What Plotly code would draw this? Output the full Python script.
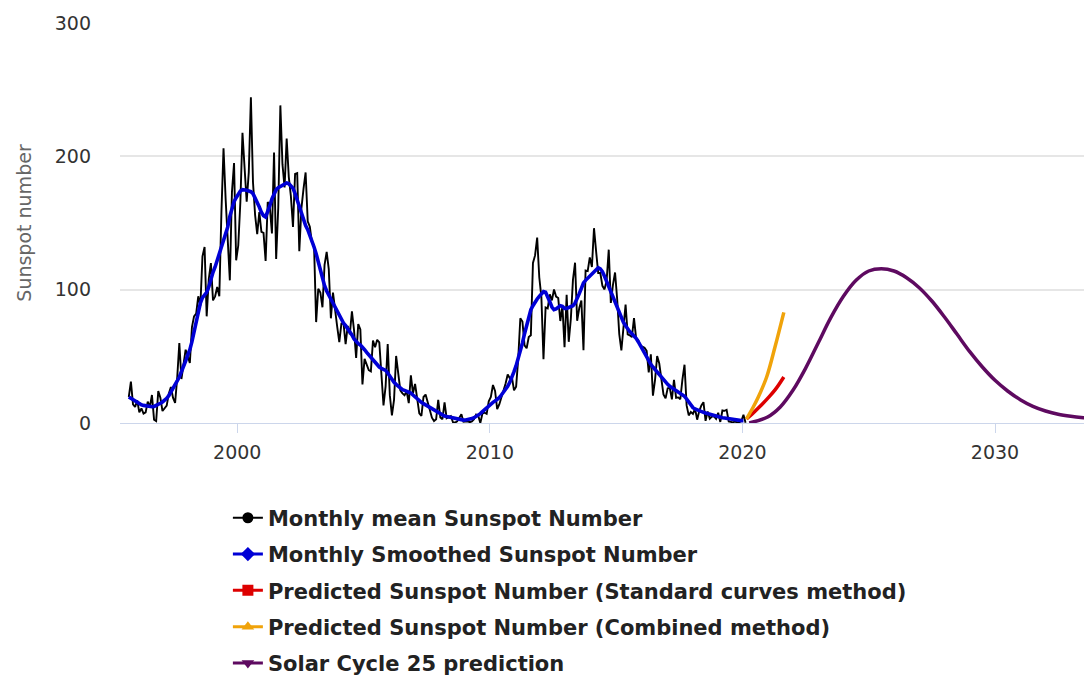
import plotly.graph_objects as go

# ---------------- data ----------------
start_year = 1995
start_month = 9  # first monthly value: Sep 1995

monthly_mean = [
    # 1995 (Sep-Dec)
    19.5, 31.0, 14.0, 12.0,
    # 1996
    17.0, 8.0, 11.0, 7.0, 8.0, 16.0, 12.0, 21.0, 2.5, 1.5, 24.0, 19.0,
    # 1997
    9.0, 11.0, 13.0, 22.0, 27.0, 19.0, 15.0, 34.0, 60.0, 33.0, 45.0, 55.0,
    # 1998
    50.0, 45.0, 72.0, 80.0, 82.0, 95.0, 88.0, 125.0, 132.0, 80.0, 108.0, 120.0,
    # 1999
    92.0, 95.0, 102.0, 95.0, 158.0, 206.0, 168.0, 140.0, 107.0, 173.0, 195.0, 122.0,
    # 2000
    133.1, 165.7, 217.7, 191.5, 165.9, 188.0, 244.3, 180.5, 156.0, 141.6, 158.1, 143.3,
    # 2001
    142.6, 121.5, 165.8, 161.7, 142.1, 202.9, 123.0, 161.5, 238.2, 194.1, 176.6, 213.4,
    # 2002
    184.6, 170.2, 147.1, 186.9, 187.5, 128.8, 161.0, 175.6, 187.9, 151.2, 147.2, 135.3,
    # 2003
    133.5, 75.7, 100.7, 97.9, 86.8, 118.7, 128.3, 115.4, 78.5, 97.8, 82.9, 72.2,
    # 2004
    60.6, 74.6, 74.8, 59.2, 72.8, 66.5, 83.8, 69.7, 48.8, 74.2, 70.1, 28.9,
    # 2005
    48.1, 43.5, 39.6, 38.7, 61.9, 56.8, 62.4, 60.5, 37.2, 13.2, 27.5, 59.3,
    # 2006
    20.9, 5.7, 17.3, 50.3, 37.2, 24.5, 22.2, 20.8, 23.7, 14.9, 35.7, 22.3,
    # 2007
    29.3, 18.4, 7.2, 5.4, 19.5, 21.3, 15.1, 9.8, 4.0, 1.5, 2.8, 17.3,
    # 2008
    4.1, 2.9, 15.5, 3.6, 4.6, 5.2, 0.6, 0.3, 1.2, 4.2, 6.6, 1.0,
    # 2009
    1.3, 1.2, 0.6, 1.2, 2.9, 6.3, 5.5, 0.0, 7.1, 7.7, 6.9, 16.3,
    # 2010
    19.5, 28.5, 24.0, 10.4, 13.9, 18.8, 25.2, 29.6, 36.4, 33.6, 34.4, 24.5,
    # 2011
    27.3, 48.3, 78.6, 76.1, 58.2, 56.1, 64.5, 65.8, 120.1, 125.7, 139.1, 109.3,
    # 2012
    94.4, 47.8, 86.6, 85.9, 96.5, 92.0, 100.1, 94.8, 93.7, 76.5, 87.6, 56.8,
    # 2013
    96.1, 60.9, 78.3, 107.3, 120.2, 76.7, 86.2, 91.8, 54.5, 114.4, 113.9, 124.2,
    # 2014
    117.0, 146.1, 128.7, 112.5, 112.5, 102.9, 100.2, 106.9, 130.0, 90.0, 103.6, 112.9,
    # 2015
    93.0, 66.7, 54.5, 75.3, 88.8, 66.5, 65.8, 64.4, 78.6, 63.6, 62.2, 58.0,
    # 2016
    57.0, 56.4, 54.1, 37.9, 51.5, 20.5, 32.4, 50.2, 44.6, 33.4, 21.4, 18.5,
    # 2017
    26.1, 26.4, 17.7, 32.3, 18.9, 19.2, 17.8, 32.6, 43.7, 13.2, 5.7, 8.2,
    # 2018
    6.8, 10.7, 2.5, 8.9, 13.1, 15.6, 1.6, 8.7, 3.3, 4.9, 4.9, 3.1,
    # 2019
    7.7, 0.8, 9.4, 9.1, 9.9, 1.2, 0.9, 0.5, 1.1, 0.4, 0.5, 1.5,
    # 2020
    6.2, 0.2,
]

monthly_smoothed = [
    # 1995 (Sep-Dec)
    19.5, 18.5, 17.2, 16.0,
    # 1996
    15.0, 14.2, 13.6, 13.2, 12.8, 12.5, 12.3, 12.2, 12.4, 13.0, 13.8, 14.8,
    # 1997
    15.8, 17.0, 18.5, 20.5, 23.0, 25.5, 28.5, 31.5, 34.5, 38.0, 42.0, 46.5,
    # 1998
    51.0, 55.0, 61.0, 68.0, 76.0, 84.0, 90.0, 94.0, 96.0, 98.0, 102.0, 108.0,
    # 1999
    113.0, 117.0, 122.0, 128.0, 133.0, 137.0, 141.0, 147.0, 155.0, 161.0, 166.0, 169.0,
    # 2000
    172.0, 174.0, 175.0, 175.0, 174.5, 174.0, 173.5, 172.0, 169.0, 166.0, 162.0, 158.0,
    # 2001
    155.5, 154.5, 158.0, 163.0, 168.0, 172.0, 175.0, 176.5, 177.5, 178.5, 179.5, 180.0,
    # 2002
    179.5, 178.0, 176.0, 172.0, 167.0, 162.0, 157.0, 152.0, 148.0, 145.0, 141.0, 136.0,
    # 2003
    132.0, 127.0, 121.0, 114.0, 108.0, 103.0, 99.0, 96.0, 93.0, 90.0, 87.0, 84.0,
    # 2004
    80.0, 77.0, 75.0, 73.0, 71.0, 69.0, 66.0, 63.0, 61.0, 59.5, 58.5, 57.0,
    # 2005
    55.0, 53.0, 51.0, 49.0, 47.0, 45.0, 43.0, 42.0, 41.0, 40.0, 39.5, 37.5,
    # 2006
    35.0, 32.5, 30.5, 29.0, 27.5, 26.0, 25.0, 24.5, 24.0, 23.5, 22.5, 21.0,
    # 2007
    19.5, 18.0, 16.5, 15.5, 14.5, 13.5, 12.5, 11.5, 10.5, 9.5, 8.5, 7.5,
    # 2008
    6.5, 5.8, 5.2, 4.8, 4.4, 4.0, 3.6, 3.2, 2.9, 2.6, 2.4, 2.2,
    # 2009
    2.3, 2.5, 2.8, 3.3, 4.0, 4.8, 5.8, 7.0, 8.5, 10.0, 11.5, 13.0,
    # 2010
    14.5, 15.5, 16.5, 17.5, 19.0, 21.0, 23.0, 25.0, 27.5, 30.5, 34.0, 38.5,
    # 2011
    43.0, 48.0, 54.0, 60.0, 67.0, 74.0, 80.0, 85.0, 88.0, 91.0, 93.0, 95.0,
    # 2012
    97.0, 98.5, 98.0, 95.0, 91.0, 87.0, 85.0, 85.5, 87.0, 88.0, 87.5, 86.0,
    # 2013
    86.0, 86.5, 87.5, 88.0, 90.0, 93.0, 97.0, 101.0, 105.0, 107.0, 108.5, 110.0,
    # 2014
    111.5, 113.0, 115.0, 116.4, 115.5, 113.5, 110.0, 106.0, 102.0, 98.0, 94.0, 90.0,
    # 2015
    86.0, 82.0, 78.5, 75.5, 73.0, 70.5, 68.5, 67.0, 65.5, 63.5, 61.0, 58.0,
    # 2016
    55.0, 52.0, 49.0, 46.5, 44.0, 42.0, 40.0, 38.0, 36.0, 34.0, 32.0, 30.5,
    # 2017
    29.0, 27.5, 26.5, 25.5, 24.5, 23.5, 22.5, 21.5, 20.0, 18.0, 15.5, 13.0,
    # 2018
    11.5, 10.5, 9.7, 9.0, 8.5, 8.0, 7.5, 7.0, 6.5, 6.0, 5.5, 5.0,
    # 2019
    4.5, 4.2, 4.0, 3.8, 3.5, 3.2, 3.0, 2.7, 2.4, 2.2, 2.0, 1.8,
    # 2020
    1.8,
]

# predictions (decimal year, sunspot number)
pred_standard_year = [2020.16, 2020.4, 2020.7, 2021.0, 2021.3, 2021.64]
pred_standard_ssn = [3.0, 7.0, 12.5, 18.5, 25.0, 34.5]

pred_combined_year = [2020.16, 2020.43, 2020.63, 2020.96, 2021.29, 2021.64]
pred_combined_ssn = [3.0, 12.0, 19.5, 34.5, 57.0, 83.0]

cycle25_year = [2020.27, 2021.0, 2021.5, 2022.0, 2022.5, 2023.0, 2023.5, 2024.0, 2024.5,
                2025.0, 2025.5, 2026.0, 2026.5, 2027.0, 2027.5, 2028.0, 2028.5, 2029.0,
                2029.5, 2030.0, 2030.5, 2031.0, 2031.5, 2032.0, 2032.5, 2033.0, 2033.5, 2034.0]
cycle25_ssn = [0.0, 4.5, 12.0, 24.5, 41.0, 60.0, 79.0, 95.0, 107.0,
               114.0, 115.7, 114.0, 109.0, 101.5, 91.5, 79.5, 66.5, 53.5,
               42.0, 32.0, 24.0, 17.5, 12.5, 9.0, 6.5, 5.0, 4.0, 3.3]

x_ticks = [2000, 2010, 2020, 2030]
y_ticks = [0, 100, 200, 300]

series_names = [
    "Monthly mean Sunspot Number",
    "Monthly Smoothed Sunspot Number",
    "Predicted Sunspot Number (Standard curves method)",
    "Predicted Sunspot Number (Combined method)",
    "Solar Cycle 25 prediction",
]

# ---------------- build ----------------
t0 = start_year + (start_month - 0.5) / 12.0
mean_years = [t0 + i / 12.0 for i in range(len(monthly_mean))]
smooth_years = [t0 + i / 12.0 for i in range(len(monthly_smoothed))]

BLACK = "#000000"
BLUE = "#0000d6"
RED = "#dd0000"
ORANGE = "#f0a30a"
PURPLE = "#5e0a60"

fig = go.Figure()

fig.add_trace(go.Scatter(x=mean_years, y=monthly_mean, mode="lines",
                         line=dict(color=BLACK, width=1.9), showlegend=False,
                         hoverinfo="skip"))
fig.add_trace(go.Scatter(x=smooth_years, y=monthly_smoothed, mode="lines",
                         line=dict(color=BLUE, width=3.6), showlegend=False,
                         hoverinfo="skip"))
fig.add_trace(go.Scatter(x=cycle25_year, y=cycle25_ssn, mode="lines",
                         line=dict(color=PURPLE, width=3.5, shape="spline", smoothing=1.0),
                         showlegend=False, hoverinfo="skip"))
fig.add_trace(go.Scatter(x=pred_standard_year, y=pred_standard_ssn, mode="lines",
                         line=dict(color=RED, width=3.5, shape="spline"),
                         showlegend=False, hoverinfo="skip"))
fig.add_trace(go.Scatter(x=pred_combined_year, y=pred_combined_ssn, mode="lines",
                         line=dict(color=ORANGE, width=3.5, shape="spline"),
                         showlegend=False, hoverinfo="skip"))

# legend-only entries (line + marker symbol)
legend_styles = [
    (BLACK, "circle", 2),
    (BLUE, "diamond", 3),
    (RED, "square", 3),
    (ORANGE, "triangle-up", 3),
    (PURPLE, "triangle-down", 3),
]
for i, (name, (col, sym, w)) in enumerate(zip(series_names, legend_styles)):
    fig.add_trace(go.Scatter(x=[None], y=[None], mode="lines+markers", name=name,
                             legendgroup="g%d" % i,
                             line=dict(color=col, width=w),
                             marker=dict(color=col, symbol=sym, size=11)))

fig.update_layout(
    width=1084, height=720,
    margin=dict(l=112, r=0, t=15, b=305),
    plot_bgcolor="white", paper_bgcolor="white",
    font=dict(family="DejaVu Sans", color="#333333"),
    showlegend=True,
    legend=dict(
        x=0.111, y=-0.1865, xanchor="left", yanchor="top",
        orientation="v", traceorder="grouped", tracegroupgap=6,
        font=dict(family="DejaVu Sans", size=21, color="#222222", weight="bold"),
        bgcolor="rgba(0,0,0,0)",
    ),
    xaxis=dict(
        range=[1995.36, 2033.84],
        tickmode="array", tickvals=x_ticks, ticktext=[str(v) for v in x_ticks],
        ticks="outside", ticklen=9, tickwidth=1, tickcolor="#ccd6eb",
        showline=True, linecolor="#ccd6eb", linewidth=1,
        showgrid=False, zeroline=False,
        tickfont=dict(family="DejaVu Sans", size=19, color="#333333"),
        ticklabelstandoff=3,
    ),
    yaxis=dict(
        range=[0, 300],
        tickmode="array", tickvals=y_ticks, ticktext=[str(v) for v in y_ticks],
        showgrid=True, gridcolor="#e6e6e6", gridwidth=1.5,
        zeroline=False, showline=False, ticks="",
        tickfont=dict(family="DejaVu Sans", size=19, color="#333333"),
        ticklabelstandoff=28,
        title=dict(text="Sunspot number", standoff=18,
                   font=dict(family="DejaVu Sans", size=19, color="#666666")),
    ),
)

fig.write_html("out.html")
